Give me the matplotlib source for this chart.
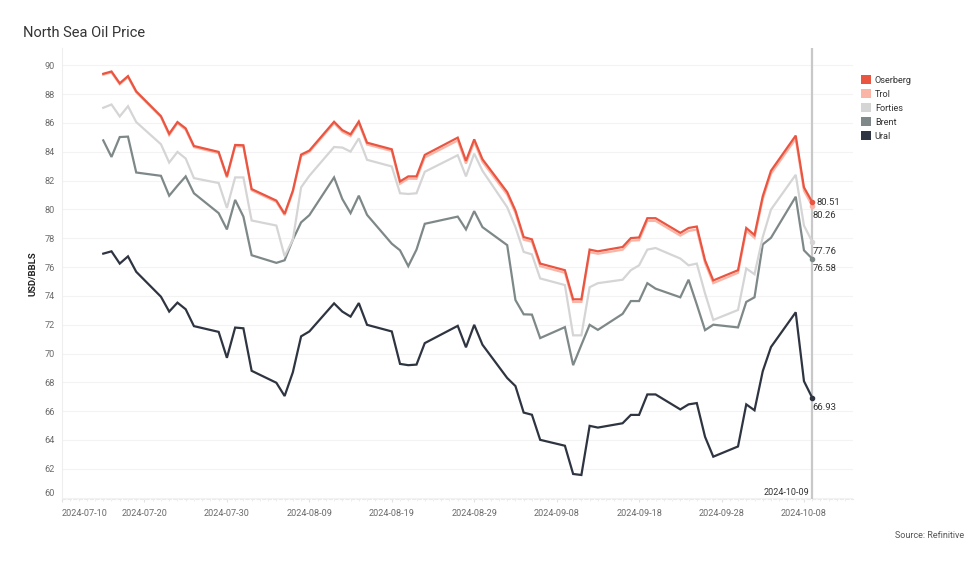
import matplotlib
matplotlib.use("Agg")
import matplotlib.pyplot as plt
import matplotlib.dates as mdates
from matplotlib.patches import Patch
import pandas as pd

plt.rcParams["font.family"] = ["Roboto", "DejaVu Sans"]

# dias úteis (sem 26/08, feriado no Reino Unido)
DATAS = [
    "2024-07-15", "2024-07-16", "2024-07-17", "2024-07-18", "2024-07-19",
    "2024-07-22", "2024-07-23", "2024-07-24", "2024-07-25", "2024-07-26",
    "2024-07-29", "2024-07-30", "2024-07-31", "2024-08-01", "2024-08-02",
    "2024-08-05", "2024-08-06", "2024-08-07", "2024-08-08", "2024-08-09",
    "2024-08-12", "2024-08-13", "2024-08-14", "2024-08-15", "2024-08-16",
    "2024-08-19", "2024-08-20", "2024-08-21", "2024-08-22", "2024-08-23",
    "2024-08-27", "2024-08-28", "2024-08-29", "2024-08-30",
    "2024-09-02", "2024-09-03", "2024-09-04", "2024-09-05", "2024-09-06",
    "2024-09-09", "2024-09-10", "2024-09-11", "2024-09-12", "2024-09-13",
    "2024-09-16", "2024-09-17", "2024-09-18", "2024-09-19", "2024-09-20",
    "2024-09-23", "2024-09-24", "2024-09-25", "2024-09-26", "2024-09-27",
    "2024-09-30", "2024-10-01", "2024-10-02", "2024-10-03", "2024-10-04",
    "2024-10-07", "2024-10-08", "2024-10-09",
]

OSERBERG = [
    89.41, 89.57, 88.75, 89.25, 88.19, 86.47, 85.25, 86.06, 85.62, 84.40,
    83.99, 82.29, 84.47, 84.45, 81.41, 80.61, 79.69, 81.30, 83.80, 84.08,
    86.08, 85.50, 85.21, 86.10, 84.63, 84.17, 81.94, 82.29, 82.29, 83.78,
    84.98, 83.37, 84.86, 83.48, 81.20, 79.92, 78.08, 77.92, 76.24,
    75.78, 73.76, 73.76, 77.21, 77.09, 77.39, 78.01, 78.05, 79.39, 79.39,
    78.37, 78.71, 78.81, 76.47, 75.07, 75.78, 78.71, 78.22, 80.91, 82.68,
    85.12, 81.53, 80.51,
]
TROL = [
    89.35, 89.50, 88.68, 89.18, 88.12, 86.40, 85.15, 85.98, 85.52, 84.32,
    83.90, 82.20, 84.38, 84.36, 81.32, 80.52, 79.60, 81.20, 83.70, 83.98,
    85.98, 85.38, 85.08, 85.98, 84.50, 84.05, 81.78, 82.13, 82.12, 83.60,
    84.78, 83.18, 84.68, 83.30, 81.02, 79.75, 77.90, 77.75, 76.06,
    75.60, 73.58, 73.58, 77.03, 76.92, 77.20, 77.83, 77.86, 79.20, 79.20,
    78.18, 78.50, 78.60, 76.28, 74.88, 75.60, 78.52, 78.02, 80.70, 82.47,
    84.90, 81.30, 80.26,
]
FORTIES = [
    87.05, 87.28, 86.45, 87.16, 86.06, 84.52, 83.25, 83.99, 83.53, 82.17,
    81.83, 80.10, 82.22, 82.22, 79.23, 78.88, 76.75, 77.90, 81.53, 82.33,
    84.33, 84.29, 84.01, 84.93, 83.44, 82.98, 81.12, 81.07, 81.12, 82.61,
    83.76, 82.29, 83.87, 82.68, 80.15, 78.77, 77.05, 76.88, 75.21,
    74.75, 71.26, 71.26, 74.60, 74.88, 75.12, 75.78, 76.12, 77.21, 77.32,
    76.59, 76.12, 76.24, 74.17, 72.33, 73.02, 75.90, 75.50, 78.08, 79.99,
    82.40, 78.88, 77.76,
]
BRENT = [
    84.79, 83.64, 85.02, 85.05, 82.56, 82.33, 80.95, 81.64, 82.29, 81.12,
    79.74, 78.61, 80.66, 79.50, 76.82, 76.29, 76.47, 77.90, 79.10, 79.60,
    82.22, 80.72, 79.74, 80.95, 79.62, 77.62, 77.16, 76.06, 77.21, 79.00,
    79.50, 78.61, 79.88, 78.77, 77.52, 73.71, 72.72, 72.70, 71.07,
    71.83, 69.19, 70.60, 71.99, 71.64, 72.75, 73.64, 73.64, 74.88, 74.50,
    73.90, 75.12, 73.40, 71.62, 72.00, 71.81, 73.58, 73.90, 77.57, 78.03,
    80.88, 77.16, 76.58,
]
URAL = [
    76.93, 77.09, 76.24, 76.74, 75.67, 73.94, 72.91, 73.53, 73.07, 71.90,
    71.50, 69.70, 71.80, 71.75, 68.80, 67.97, 67.05, 68.70, 71.19, 71.53,
    73.48, 72.91, 72.56, 73.50, 71.99, 71.53, 69.28, 69.19, 69.23, 70.72,
    71.92, 70.43, 71.99, 70.61, 68.30, 67.74, 65.90, 65.75, 64.01,
    63.60, 61.64, 61.57, 64.98, 64.86, 65.16, 65.74, 65.74, 67.16, 67.16,
    66.12, 66.47, 66.56, 64.22, 62.84, 63.55, 66.47, 66.06, 68.77, 70.45,
    72.86, 68.08, 66.93,
]

NOMES = ["Oserberg", "Trol", "Forties", "Brent", "Ural"]
CORES = ["#ea5541", "#fbb5a6", "#d5d5d5", "#7f8888", "#2e3541"]
TICKS_X = [
    "2024-07-10", "2024-07-20", "2024-07-30", "2024-08-09", "2024-08-19",
    "2024-08-29", "2024-09-08", "2024-09-18", "2024-09-28", "2024-10-08",
]
DATA_REF = "2024-10-09"


def grafico():
    datas = pd.to_datetime(DATAS)
    series = [OSERBERG, TROL, FORTIES, BRENT, URAL]

    fig = plt.figure(figsize=(9.8, 5.62), dpi=100)
    ax = fig.add_axes([0.0633, 0.112, 0.8067, 0.8026])

    # desenha de baixo para cima: Ural primeiro, Oserberg por cima
    for nome, valores, cor in reversed(list(zip(NOMES, series, CORES))):
        ax.plot(datas, valores, color=cor, lw=1.6, solid_joinstyle="miter",
                zorder=3)
        ax.plot(datas[-1:], valores[-1:], "o", color=cor, ms=3, zorder=4)

    ref = pd.Timestamp(DATA_REF)
    ax.axvline(ref, color="#c8c8c8", lw=1.6, zorder=2)
    ax.annotate(DATA_REF, (ref, 59.9), xytext=(-3, 7),
                textcoords="offset pixels", ha="right", va="center",
                fontsize=6.5, color="#333333")

    # rótulos do último valor
    ax.annotate(f"{OSERBERG[-1]:.2f}", (datas[-1], OSERBERG[-1]),
                xytext=(4, 0), textcoords="offset pixels",
                ha="left", va="center", fontsize=6.8, color="#333333")
    for valores in (TROL, FORTIES, BRENT, URAL):
        ax.annotate(f"{valores[-1]:.2f}", (datas[-1], valores[-1]),
                    xytext=(0, -9.5), textcoords="offset pixels",
                    ha="left", va="center", fontsize=6.8, color="#333333")

    ax.set_xlim(pd.Timestamp("2024-07-10"),
                pd.Timestamp("2024-07-10") + pd.Timedelta(days=95.9))
    ax.set_ylim(59.9, 91.2)

    ax.set_yticks(range(60, 91, 2))
    ax.set_xticks(pd.to_datetime(TICKS_X))
    ax.set_xticklabels(TICKS_X)
    ax.xaxis.set_minor_locator(mdates.DayLocator())
    ax.tick_params(axis="y", length=0, pad=5, labelsize=6.6,
                   labelcolor="#6b6b6b")
    ax.tick_params(axis="x", which="major", length=2, pad=5, labelsize=6.6,
                   labelcolor="#6b6b6b", color="#e2e2e2")
    ax.tick_params(axis="x", which="minor", length=1.5, color="#ececec")
    ax.get_xticklabels()[0].set_ha("left")
    ax.get_yticklabels()[0].set_va("bottom")

    ax.grid(axis="y", color="#f3f3f3", lw=0.8)
    ax.set_axisbelow(True)
    for lado in ("top", "right"):
        ax.spines[lado].set_visible(False)
    ax.spines["left"].set_color("#eeeeee")
    ax.spines["bottom"].set_color("#eaeaea")
    ax.spines["bottom"].set_linestyle((0, (3, 2)))

    ax.set_ylabel("USD/BBLS", fontsize=6.8, fontweight="bold",
                  color="#222222", labelpad=5)

    alcas = [Patch(facecolor=c, edgecolor="none") for c in CORES]
    fig.legend(alcas, NOMES, loc="upper left",
               bbox_to_anchor=(861 / 980, 1 - 75 / 562), frameon=False,
               fontsize=6.6, handlelength=1.1, handleheight=1.1,
               handletextpad=0.4, labelspacing=0.5, labelcolor="#333333",
               borderaxespad=0, borderpad=0)

    fig.text(23 / 980, 1 - 33 / 562, "North Sea Oil Price", fontsize=10.5,
             color="#333333", va="center", ha="left")
    fig.text(964 / 980, 1 - 536 / 562, "Source: Refinitive", fontsize=6.5,
             color="#555555", va="center", ha="right")

    fig.savefig("out.png", dpi=100)
    plt.close(fig)


if __name__ == "__main__":
    grafico()
